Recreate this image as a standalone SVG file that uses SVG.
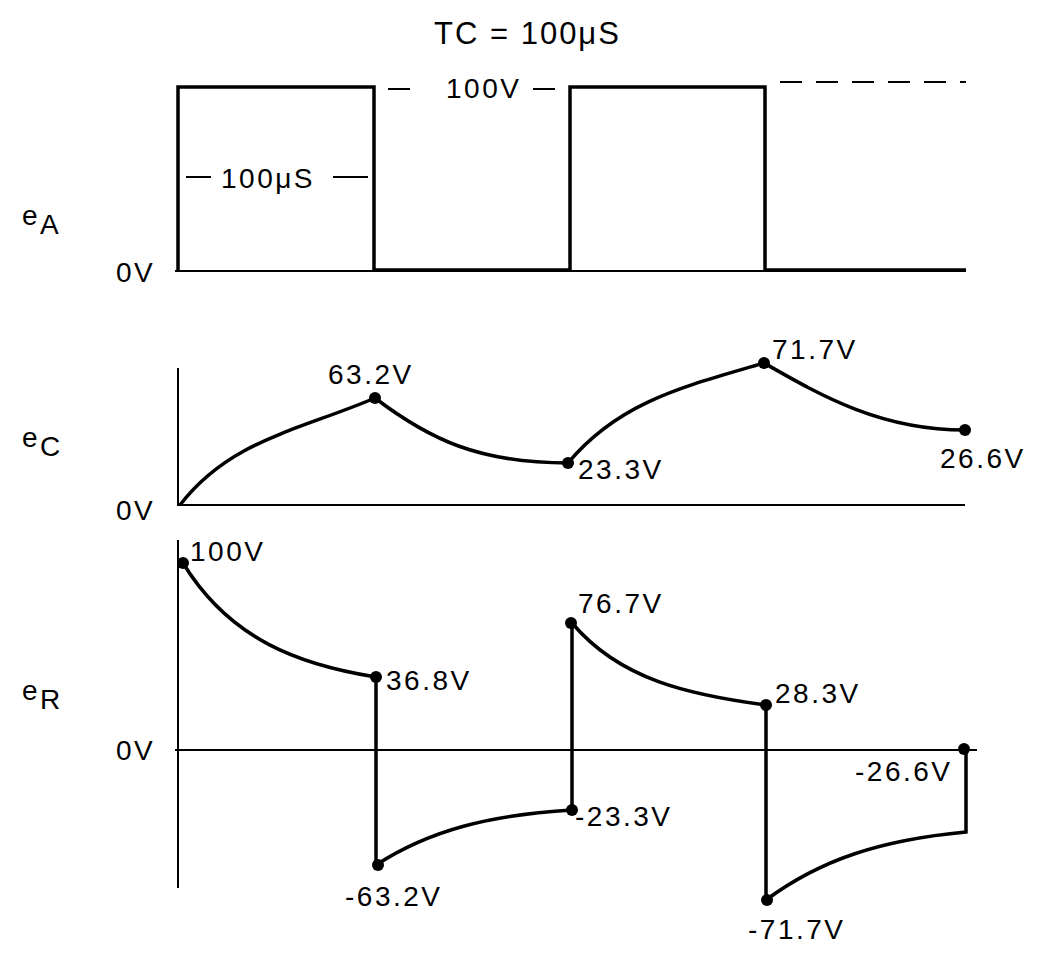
<svg xmlns="http://www.w3.org/2000/svg" width="1046" height="967" viewBox="0 0 1046 967">
<style>
text{font-family:"Liberation Sans",Arial,sans-serif;font-size:28px;letter-spacing:2.5px;fill:#000}
.w{fill:none;stroke:#000;stroke-width:3.5}
.a{fill:none;stroke:#000;stroke-width:2}
.d{fill:none;stroke:#000;stroke-width:2;stroke-dasharray:22,14}
</style>
<rect width="1046" height="967" fill="#fff"/>
<text x="434" y="44" style="font-size:31px;letter-spacing:2px">TC = 100μS</text>
<!-- eA -->
<text x="22" y="225" font-size="32">e<tspan dy="9" font-size="28">A</tspan></text>
<text x="116" y="282">0V</text>
<line class="a" x1="175" y1="271" x2="966" y2="271"/>
<path class="w" d="M178,272 V87 H374 V270 H570 V87 H765 V270 H966"/>
<line class="a" x1="388" y1="89" x2="410" y2="89"/>
<line class="a" x1="533" y1="89" x2="555" y2="89"/>
<text x="446" y="98">100V</text>
<path class="d" d="M780,82 H966"/>
<line class="a" x1="186" y1="177" x2="211" y2="177"/>
<line class="a" x1="333" y1="177" x2="368" y2="177"/>
<text x="221" y="188">100μS</text>
<!-- eC -->
<text x="22" y="447" font-size="32">e<tspan dy="9" font-size="28">C</tspan></text>
<text x="116" y="520">0V</text>
<line class="a" x1="178" y1="368" x2="178" y2="506"/>
<line class="a" x1="178" y1="505" x2="965" y2="505"/>
<path class="w" d="M180,505 C230,440 300,430 375,398 C430,440 480,463 568,463 C620,400 690,385 764,363 C820,395 880,430 965,430"/>
<g>
<circle cx="375" cy="398" r="6"/><circle cx="568" cy="463" r="6"/><circle cx="764" cy="363" r="6"/><circle cx="965" cy="430" r="6"/>
</g>
<text x="328" y="384">63.2V</text>
<text x="578" y="479">23.3V</text>
<text x="772" y="359">71.7V</text>
<text x="940" y="468">26.6V</text>
<!-- eR -->
<text x="22" y="700" font-size="32">e<tspan dy="9" font-size="28">R</tspan></text>
<text x="116" y="760">0V</text>
<line class="a" x1="178" y1="540" x2="178" y2="888"/>
<line class="a" x1="175" y1="750" x2="977" y2="750"/>
<path class="w" d="M183,563 C230,640 300,665 376,677 V865 C430,830 490,815 572,810 V623 C620,680 690,695 766,705 V900 C820,860 880,840 966,832 V748"/>
<g>
<circle cx="183" cy="563" r="6"/><circle cx="376" cy="677" r="6"/><circle cx="378" cy="865" r="6"/><circle cx="572" cy="810" r="6"/><circle cx="571" cy="623" r="6"/><circle cx="766" cy="705" r="6"/><circle cx="767" cy="900" r="6"/><circle cx="964" cy="749" r="6"/>
</g>
<text x="190" y="561">100V</text>
<text x="386" y="690">36.8V</text>
<text x="345" y="906">-63.2V</text>
<text x="578" y="613">76.7V</text>
<text x="575" y="826">-23.3V</text>
<text x="775" y="703">28.3V</text>
<text x="748" y="939">-71.7V</text>
<text x="855" y="781">-26.6V</text>
</svg>
